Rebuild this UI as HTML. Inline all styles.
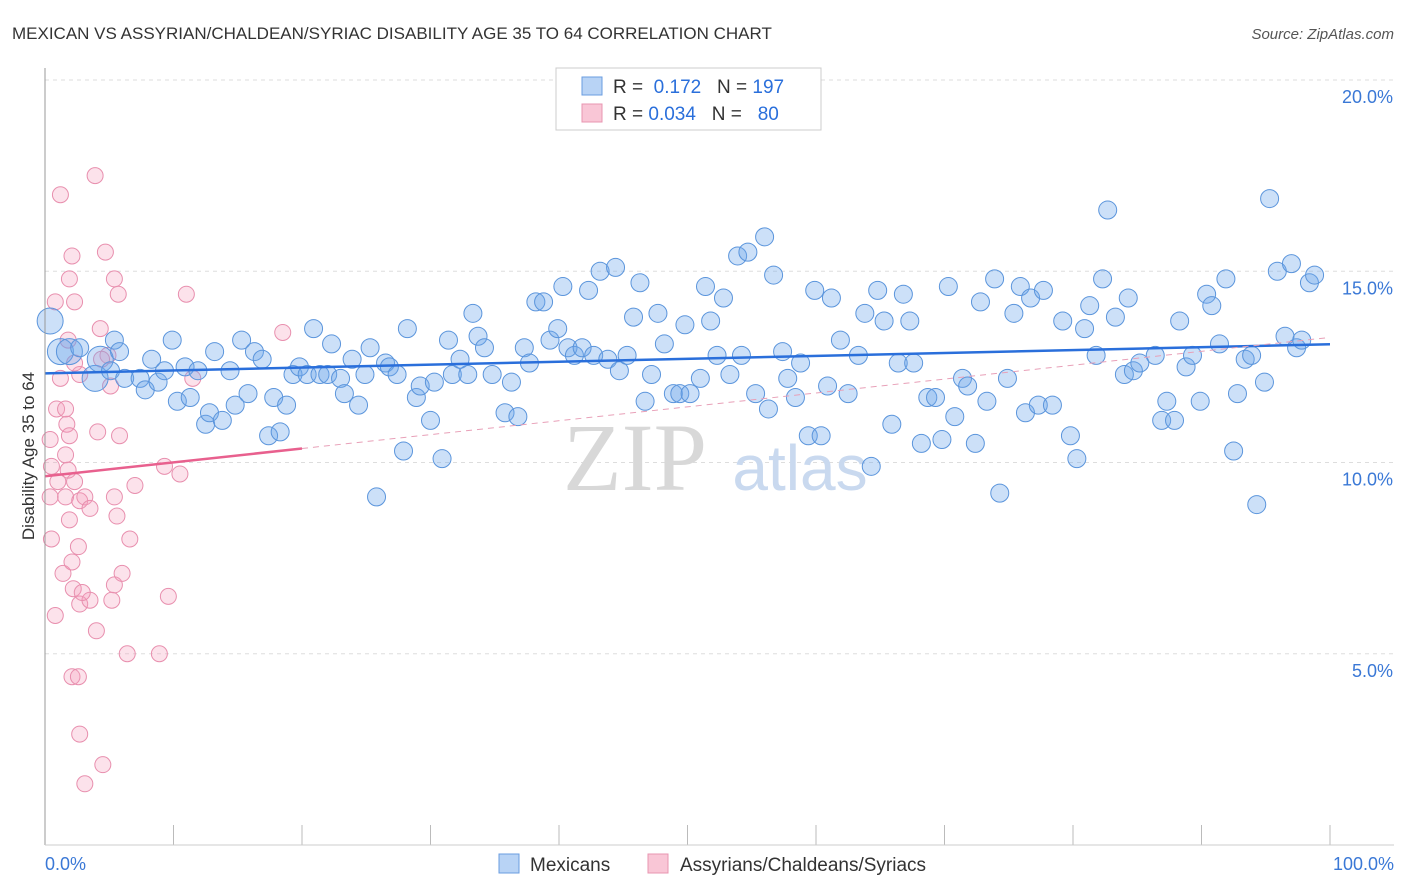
<!DOCTYPE html>
<html><head><meta charset="utf-8"><style>
body{margin:0;background:#fff;font-family:"Liberation Sans",sans-serif;}
svg{display:block}
</style></head><body>
<svg id="chart" width="1406" height="892">
<text x="12" y="39" font-size="17" fill="#333">MEXICAN VS ASSYRIAN/CHALDEAN/SYRIAC DISABILITY AGE 35 TO 64 CORRELATION CHART</text>
<text x="1394" y="39" font-size="15" fill="#555" font-style="italic" text-anchor="end">Source: ZipAtlas.com</text>
<g id="grid"></g>
<text x="635" y="490" font-size="96" fill="#d8d8d8" text-anchor="middle" font-family="Liberation Serif,serif">ZIP</text>
<text x="800" y="490" font-size="64" fill="#c9d9ef" text-anchor="middle">atlas</text>
<g id="pts"></g>
<g id="lines"></g>
<line x1="45" y1="68" x2="45" y2="845" stroke="#999"/>
<line x1="45" y1="845" x2="1394" y2="845" stroke="#ccc"/>
<text transform="translate(34,456) rotate(-90)" font-size="17" fill="#333" text-anchor="middle">Disability Age 35 to 64</text>
<g>
<rect x="556" y="68" width="265" height="62" fill="#fff" stroke="#ccc"/>
<rect x="582" y="77" width="20" height="18" fill="#b8d3f5" stroke="#6a9de0"/>
<rect x="582" y="104" width="20" height="18" fill="#f9c6d6" stroke="#e895b0"/>
<text x="613" y="93" font-size="19" fill="#333">R = <tspan fill="#2a6fdb">&#160;0.172</tspan>&#160;&#160;&#160;N = <tspan fill="#2a6fdb">197</tspan></text>
<text x="613" y="120" font-size="19" fill="#333">R = <tspan fill="#2a6fdb">0.034</tspan>&#160;&#160;&#160;N = <tspan fill="#2a6fdb">&#160;&#160;80</tspan></text>
</g>
<g>
<rect x="499" y="854" width="20" height="19" fill="#b8d3f5" stroke="#6a9de0"/>
<text x="530" y="871" font-size="19" fill="#333">Mexicans</text>
<rect x="648" y="854" width="20" height="19" fill="#f9c6d6" stroke="#e895b0"/>
<text x="680" y="871" font-size="19" fill="#333">Assyrians/Chaldeans/Syriacs</text>
</g>
</svg>
<script>
const xTicks=[0,10,20,30,40,50,60,70,80,90,100];
const yTicks=[5,10,15,20];
const yTickLabels=["5.0%","10.0%","15.0%","20.0%"];
const xEndLabels=["0.0%","100.0%"];
const blueX=[0.4,1.2,1.9,2.7,3.9,4.3,5.1,5.4,5.8,6.2,7.4,7.8,8.3,8.8,9.3,9.9,10.3,10.9,11.3,11.9,12.5,12.8,13.2,13.8,14.4,14.8,15.3,15.8,16.3,16.9,17.4,17.8,18.3,18.8,19.3,19.8,20.4,20.9,21.4,22.0,22.3,23.0,23.3,23.9,24.4,24.9,25.3,25.8,26.5,26.8,27.4,27.9,28.2,28.9,29.2,30.0,30.3,30.9,31.4,31.7,32.3,32.9,33.3,33.7,34.2,34.8,35.8,36.3,36.8,37.3,37.7,38.2,38.8,39.3,39.9,40.3,40.7,41.2,41.8,42.3,42.7,43.2,43.8,44.4,44.7,45.3,45.8,46.3,46.7,47.2,47.7,48.2,48.9,49.4,49.8,50.2,51.0,51.4,51.8,52.3,52.8,53.3,53.9,54.2,54.7,55.3,56.0,56.3,56.7,57.4,57.8,58.4,58.8,59.4,59.9,60.4,60.9,61.2,61.9,62.5,63.3,63.8,64.3,64.8,65.3,65.9,66.4,66.8,67.3,67.6,68.2,68.7,69.3,69.8,70.3,70.8,71.4,71.8,72.4,72.8,73.3,73.9,74.3,74.9,75.4,75.9,76.3,76.7,77.3,77.7,78.4,79.2,79.8,80.3,80.9,81.3,81.8,82.3,82.7,83.3,84.0,84.3,84.7,85.2,86.4,86.9,87.3,87.9,88.3,88.8,89.3,89.9,90.4,90.8,91.4,91.9,92.5,92.8,93.4,93.9,94.3,94.9,95.3,95.9,96.5,97.0,97.4,97.8,98.4,98.8];
const blueY=[13.7,12.9,12.9,13.0,12.2,12.7,12.4,13.2,12.9,12.2,12.2,11.9,12.7,12.1,12.4,13.2,11.6,12.5,11.7,12.4,11.0,11.3,12.9,11.1,12.4,11.5,13.2,11.8,12.9,12.7,10.7,11.7,10.8,11.5,12.3,12.5,12.3,13.5,12.3,12.3,13.1,12.2,11.8,12.7,11.5,12.3,13.0,9.1,12.6,12.5,12.3,10.3,13.5,11.7,12.0,11.1,12.1,10.1,13.2,12.3,12.7,12.3,13.9,13.3,13.0,12.3,11.3,12.1,11.2,13.0,12.6,14.2,14.2,13.2,13.5,14.6,13.0,12.8,13.0,14.5,12.8,15.0,12.7,15.1,12.4,12.8,13.8,14.7,11.6,12.3,13.9,13.1,11.8,11.8,13.6,11.8,12.2,14.6,13.7,12.8,14.3,12.3,15.4,12.8,15.5,11.8,15.9,11.4,14.9,12.9,12.2,11.7,12.6,10.7,14.5,10.7,12.0,14.3,13.2,11.8,12.8,13.9,9.9,14.5,13.7,11.0,12.6,14.4,13.7,12.6,10.5,11.7,11.7,10.6,14.6,11.2,12.2,12.0,10.5,14.2,11.6,14.8,9.2,12.2,13.9,14.6,11.3,14.3,11.5,14.5,11.5,13.7,10.7,10.1,13.5,14.1,12.8,14.8,16.6,13.8,12.3,14.3,12.4,12.6,12.8,11.1,11.6,11.1,13.7,12.5,12.8,11.6,14.4,14.1,13.1,14.8,10.3,11.8,12.7,12.8,8.9,12.1,16.9,15.0,13.3,15.2,13.0,13.2,14.7,14.9];
const pinkX=[0.4,0.5,0.8,0.8,0.9,1.2,1.2,1.4,1.6,1.6,1.7,1.8,1.9,1.9,2.1,2.1,2.2,2.3,2.6,2.7,2.7,2.7,3.1,3.1,3.5,3.9,4.1,4.3,4.5,4.7,4.9,5.1,5.2,5.4,5.4,5.6,5.7,5.8,6.0,6.4,6.6,7.0,8.9,9.3,9.6,10.5,11.0,11.5,18.5,1.9,0.4,0.5,1.0,1.8,2.6,3.5,2.7,4.4,5.4,2.3,1.6,2.3,4.0,2.9,2.1];
const pinkY=[9.1,8.0,6.0,14.2,11.4,17.0,12.2,7.1,10.2,9.1,11.0,13.2,8.5,10.7,7.4,4.4,6.7,9.5,4.4,2.9,6.3,9.0,9.1,1.6,6.4,17.5,10.8,13.5,2.1,15.5,12.8,12.0,6.4,9.1,6.8,8.6,14.4,10.7,7.1,5.0,8.0,9.4,5.0,9.9,6.5,9.7,14.4,12.2,13.4,14.8,10.6,9.9,9.5,9.8,7.8,8.8,12.3,12.7,14.8,12.6,11.4,14.2,5.6,6.6,15.4];
const bigBlue=[0,1,2,4,5];
const blueLine=[12.33,13.09];
const pinkLine=[9.64,13.27];
const pinkSolidEnd=20;

const NS="http://www.w3.org/2000/svg";
const X0=45,X1=1330,Y0=845,Y20=80;
function sx(v){return X0+(X1-X0)*v/100;}
function sy(v){return Y0-(Y0-Y20)*v/20;}
function mk(tag,attrs,parent){const e=document.createElementNS(NS,tag);for(const k in attrs)e.setAttribute(k,attrs[k]);parent.appendChild(e);return e;}
const svg=document.getElementById('chart');
const grid=document.getElementById('grid');
yTicks.forEach((t,i)=>{
  const l=mk('line',{x1:45,x2:1394,y1:sy(t),y2:sy(t),stroke:'#ddd','stroke-dasharray':'4,4'},grid);
  
  
  const tx=mk('text',{x:1393,y:sy(t)+23,'font-size':18,fill:'#3a78d6','text-anchor':'end'},grid);
  tx.textContent=yTickLabels[i];
  
  
});
xTicks.forEach(t=>{
  const l=mk('line',{x1:sx(t),x2:sx(t),y1:825,y2:845,stroke:'#bbb'},grid);
  
  
});
[[0,'start',45],[100,'end',1394]].forEach((d,i)=>{
  const tx=mk('text',{x:d[2],y:870,'font-size':18,fill:'#3a78d6','text-anchor':d[1]},grid);
  tx.textContent=xEndLabels[i];
  
  
});
const pts=document.getElementById('pts');
pinkX.forEach((x,i)=>{
  const c=mk('circle',{cx:sx(x),cy:sy(pinkY[i]),r:8,fill:'rgba(244,160,188,0.3)',stroke:'#e88fae','stroke-width':1},pts);
  
  
});
blueX.forEach((x,i)=>{
  const r=bigBlue.includes(i)?13:9;
  const c=mk('circle',{cx:sx(x),cy:sy(blueY[i]),r:r,fill:'rgba(110,165,235,0.35)',stroke:'#5b95dc','stroke-width':1},pts);
  
  
});
const lines=document.getElementById('lines');
const bl=mk('line',{x1:sx(0),y1:sy(blueLine[0]),x2:sx(100),y2:sy(blueLine[1]),stroke:'#2a6fdb','stroke-width':2.5},lines);


const pAt=v=>pinkLine[0]+(pinkLine[1]-pinkLine[0])*v/100;
const ps=mk('line',{x1:sx(0),y1:sy(pAt(0)),x2:sx(pinkSolidEnd),y2:sy(pAt(pinkSolidEnd)),stroke:'#e8608e','stroke-width':2.5},lines);


const pd=mk('line',{x1:sx(pinkSolidEnd),y1:sy(pAt(pinkSolidEnd)),x2:sx(100),y2:sy(pAt(100)),stroke:'#e8a0b8','stroke-width':1,'stroke-dasharray':'6,5'},lines);


</script>
</body></html>
